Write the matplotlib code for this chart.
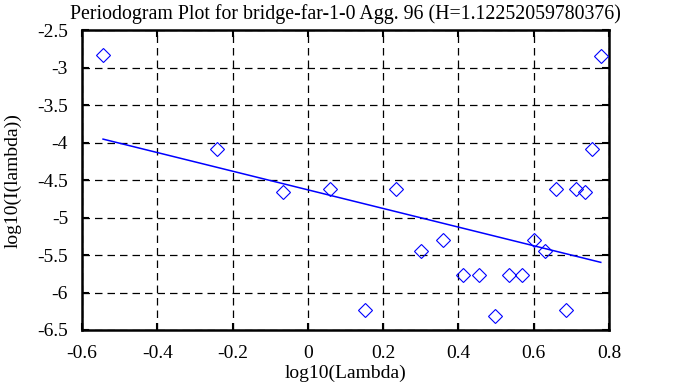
import numpy as np
import matplotlib
matplotlib.use("Agg")
import matplotlib.pyplot as plt

# ---------------------------
# Data
# ---------------------------
log_lambda = [-0.544, -0.242, -0.067, 0.059, 0.153, 0.235, 0.301, 0.359,
              0.411, 0.455, 0.498, 0.534, 0.570, 0.600, 0.631, 0.660,
              0.686, 0.712, 0.737, 0.756, 0.778]
log_I = [-2.827, -4.080, -4.653, -4.623, -6.227, -4.617, -5.444, -5.302,
         -5.764, -5.760, -6.307, -5.760, -5.769, -5.302, -5.444, -4.617,
         -6.227, -4.617, -4.653, -4.080, -2.836]

H = 1.12252059780376
fit_slope = 1 - 2 * H
fit_intercept = -4.628

x_ticks = [-0.6, -0.4, -0.2, 0, 0.2, 0.4, 0.6, 0.8]
x_labels = ["-0.6", "-0.4", "-0.2", "0", "0.2", "0.4", "0.6", "0.8"]
y_ticks = [-6.5, -6, -5.5, -5, -4.5, -4, -3.5, -3, -2.5]
y_labels = ["-6.5", "-6", "-5.5", "-5", "-4.5", "-4", "-3.5", "-3", "-2.5"]

plt.rcParams['font.family'] = ['Liberation Serif', 'DejaVu Serif']

fig = plt.figure(figsize=(6.73, 3.87), dpi=100)
ax = fig.add_axes([0.1218, 0.1473, 0.7832, 0.7739])

ax.plot(log_lambda, log_I, linestyle='none', marker='D', markersize=7.1,
        markerfacecolor='none', markeredgecolor='blue', markeredgewidth=0.8,
        zorder=3)

fx = np.array([min(log_lambda), max(log_lambda)])
ax.plot(fx, fit_slope * fx + fit_intercept, color='blue', linewidth=1.1, zorder=3)

ax.set_xlim(-0.6, 0.8)
ax.set_ylim(-6.5, -2.5)
ax.set_xticks(x_ticks)
ax.set_xticklabels(x_labels)
ax.set_yticks(y_ticks)
ax.set_yticklabels(y_labels)

ax.grid(True, color='black', linestyle=(0, (6, 4)), linewidth=0.9)
ax.set_axisbelow(True)
for s in ax.spines.values():
    s.set_linewidth(1.8)
ax.tick_params(direction='in', length=5, width=1.5, top=True, right=True,
               labelsize=14, colors='black')
ax.tick_params(axis='x', pad=11)
ax.tick_params(axis='y', pad=10)

ax.set_title("Periodogram Plot for bridge-far-1-0 Agg. 96 (H=1.12252059780376)",
             fontsize=14.3, pad=8)
ax.set_xlabel("log10(Lambda)", fontsize=14, labelpad=2)
ax.set_ylabel("log10(I(lambda))", fontsize=14, labelpad=11)

fig.savefig("out.png", dpi=100)
